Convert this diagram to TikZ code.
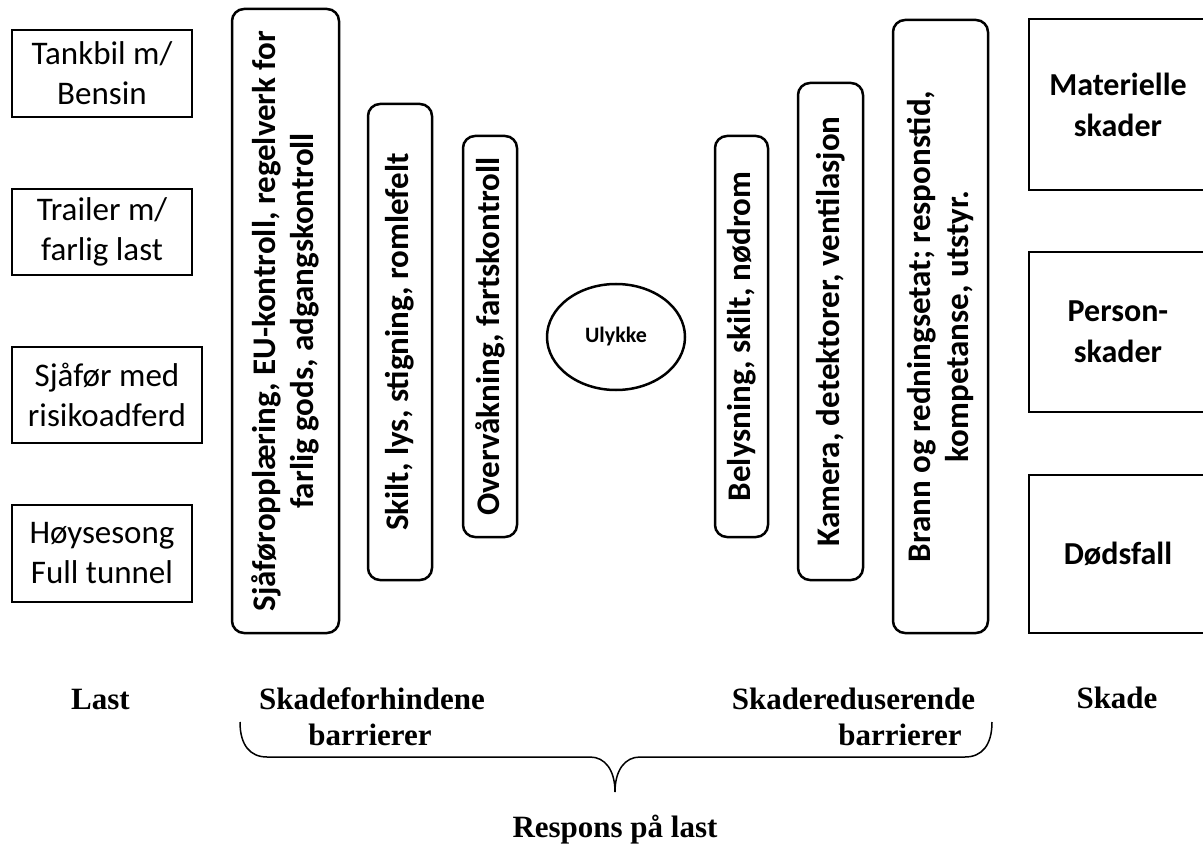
\documentclass[tikz,border=0pt]{standalone}
\usepackage{fontspec}
\setmainfont{Carlito}
\newfontfamily\serifb{Liberation Serif}
\usetikzlibrary{shapes.geometric}
\begin{document}
\begin{tikzpicture}[x=1pt,y=-1pt,
  loadbox/.style={draw, line width=2.5pt, inner sep=0pt, outer sep=0pt, align=center,
    font=\fontsize{33}{40}\selectfont},
  barrier/.style={draw, line width=2.5pt, rounded corners=12pt, rotate=90, inner sep=0pt,
    outer sep=0pt, align=center, font=\bfseries\fontsize{33}{38}\selectfont},
  harm/.style={draw, line width=2.5pt, inner sep=0pt, outer sep=0pt, align=center,
    minimum width=178pt, font=\bfseries\fontsize{32}{41}\selectfont},
  caption/.style={font=\serifb\bfseries\fontsize{31}{36}\selectfont, anchor=base, inner sep=0pt},
  bracepath/.style={line width=1.5pt}]
\useasboundingbox (0,0) rectangle (1203,845);
\clip (0,0) rectangle (1203,845);

% Load boxes
\node[loadbox, minimum width=180pt, minimum height=87pt] (l1) at (102,73.5) {Tankbil m/\\Bensin};
\node[loadbox, minimum width=180pt, minimum height=86pt] (l2) at (102,232) {Trailer m/\\farlig last};
\node[loadbox, minimum width=190pt, minimum height=96pt] (l3) at (107,395) {Sjåfør med\\risikoadferd};
\node[loadbox, minimum width=180pt, minimum height=97pt] (l4) at (102,553.5) {Høysesong\\Full tunnel};

% Barriers (rotated: width = box height, height = box width)
\node[barrier, minimum width=624pt, minimum height=107pt] (b1) at (285.5,321)
  {Sjåføropplæring, EU-kontroll, regelverk for\\farlig gods, adgangskontroll};
\node[barrier, minimum width=476pt, minimum height=64pt] (b2) at (400,342)
  {Skilt, lys, stigning, romlefelt};
\node[barrier, minimum width=401pt, minimum height=54pt] (b3) at (490,336.5)
  {Overvåkning, fartskontroll};
\node[barrier, minimum width=401pt, minimum height=53pt] (b4) at (741.5,336.5)
  {Belysning, skilt, nødrom};
\node[barrier, minimum width=497pt, minimum height=65pt] (b5) at (830.5,331.5)
  {Kamera, detektorer, ventilasjon};
\node[barrier, minimum width=613pt, minimum height=95pt] (b6) at (940.5,326.5)
  {Brann og redningsetat; responstid,\\kompetanse, utstyr.};

% Accident
\node[draw, ellipse, line width=2.5pt, inner sep=0pt, minimum width=138pt, minimum height=106pt,
  font=\bfseries\fontsize{22}{26}\selectfont] (ulykke) at (616,337) {Ulykke};

% Harm boxes (cut off at right edge)
\node[harm, minimum height=171pt] (r1) at (1118,104.5) {Materielle\\skader};
\node[harm, minimum height=160pt] (r2) at (1118,332) {Person-\\skader};
\node[harm, minimum height=158pt] (r3) at (1118,554) {Dødsfall};

% Captions
\node[caption] (cLast) at (100.5,709) {Last};
\node[caption] (cSf1) at (372,709) {Skadeforhindene};
\node[caption] (cSf2) at (370,745) {barrierer};
\node[caption] (cSr1) at (853.5,709) {Skadereduserende};
\node[caption] (cSr2) at (900,745) {barrierer};
\node[caption] (cSkade) at (1117,708) {Skade};
\node[caption] (cResp) at (615,837) {Respons på last};

% Brace
\coordinate (brL) at (240,722);
\coordinate (brR) at (992,722);
\coordinate (brTip) at (615,792);
\draw[bracepath] (brL) .. controls (240,745) and (250,757) .. (267,757) -- (590,757)
  .. controls (605,757) and (615,770) .. (brTip)
  .. controls (615,770) and (625,757) .. (640,757) -- (965,757)
  .. controls (982,757) and (992,745) .. (brR);
\end{tikzpicture}
\end{document}
